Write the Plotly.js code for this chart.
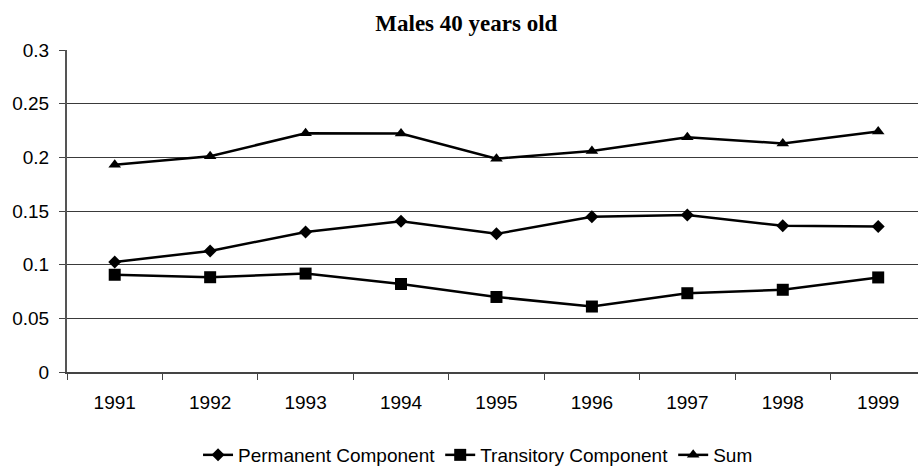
<!DOCTYPE html>
<html>
<head>
<meta charset="utf-8">
<script src="https://cdn.plot.ly/plotly-3.0.1.min.js"></script>
<style>html,body{margin:0;padding:0;background:#fff}#chart{width:918px;height:474px}</style>
</head>
<body>
<div id="chart"></div>
<script>
const years = ['1991','1992','1993','1994','1995','1996','1997','1998','1999'];
const permanent = [0.1025, 0.1128, 0.1305, 0.1404, 0.1287, 0.1447, 0.1462, 0.1362, 0.1356];
const transitory = [0.0906, 0.0883, 0.0917, 0.0820, 0.0699, 0.0610, 0.0734, 0.0766, 0.0881];
const sumVals = [0.1932, 0.2011, 0.2224, 0.2222, 0.1987, 0.2060, 0.2186, 0.2130, 0.2240];
const yTicks = [0, 0.05, 0.1, 0.15, 0.2, 0.25, 0.3];
const yTickText = ['0', '0.05', '0.1', '0.15', '0.2', '0.25', '0.3'];

function tr(name, y, symbol, size) {
  return {
    x: years, y: y, name: name, type: 'scatter', mode: 'lines+markers',
    line: {color: '#000', width: 2.5},
    marker: {symbol: symbol, size: size, color: '#000', line: {width: 0}}
  };
}
const data = [
  tr('Permanent Component', permanent, 'diamond', 10),
  tr('Transitory Component', transitory, 'square', 12),
  tr('Sum', sumVals, 'triangle-up', 11)
];
const layout = {
  width: 918, height: 474,
  margin: {l: 67, r: 0, t: 50, b: 100},
  paper_bgcolor: '#fff', plot_bgcolor: '#fff',
  font: {family: '"Liberation Sans", Arial, sans-serif', size: 19, color: '#000'},
  title: {text: '<b>Males 40 years old</b>', x: 0.508, xref: 'container', xanchor: 'center', y: 0.952, yref: 'container', yanchor: 'middle',
    font: {family: '"Liberation Serif", "Times New Roman", serif', size: 23, color: '#000'}},
  showlegend: true,
  legend: {orientation: 'h', x: 0.483, xanchor: 'center', xref: 'paper', y: -0.258, yanchor: 'middle', yref: 'paper',
    font: {size: 19, color: '#000'}, itemwidth: 30, tracegroupgap: 0, bgcolor: 'rgba(0,0,0,0)'},
  xaxis: {type: 'category', range: [-0.5, 8.417], showgrid: false, showline: true, linecolor: '#444', linewidth: 2,
    ticks: 'outside', tickson: 'boundaries', ticklen: 6, tickcolor: '#444', tickwidth: 1, zeroline: false,
    tickangle: 0, tickfont: {size: 19}, ticklabelstandoff: 12, automargin: false},
  yaxis: {range: [0, 0.3], tickvals: yTicks, ticktext: yTickText, showgrid: true, gridcolor: '#3a3a3a', gridwidth: 1,
    showline: true, linecolor: '#555', linewidth: 2, ticks: 'outside', ticklen: 6, tickcolor: '#444',
    zeroline: false, tickfont: {size: 19}, ticklabelstandoff: 6, automargin: false}
};
Plotly.newPlot('chart', data, layout, {displayModeBar: false, staticPlot: true});
</script>
</body>
</html>
